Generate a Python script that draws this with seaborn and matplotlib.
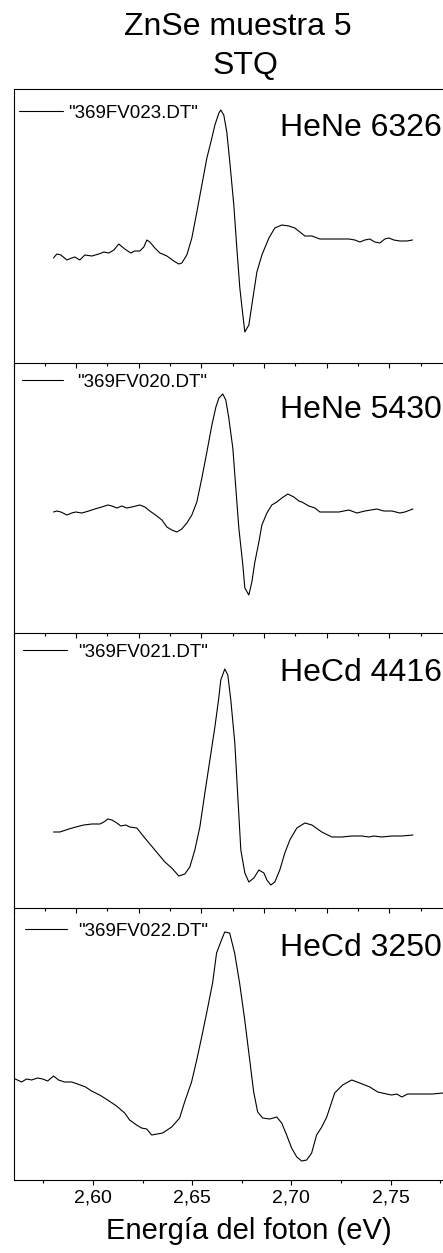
import numpy as np
import pandas as pd
import matplotlib
matplotlib.use("Agg")
import matplotlib.pyplot as plt
import seaborn as sns
from matplotlib.ticker import MultipleLocator, FuncFormatter

# ---------------------------------------------------------------
# Photoreflectance spectra of ZnSe sample 5 (STQ), four excitation lines
# Energy in eV, signal in arbitrary units (baseline ~ 0)
# ---------------------------------------------------------------
files = ['"369FV023.DT"', '"369FV020.DT"', '"369FV021.DT"', '"369FV022.DT"']
lasers = ["HeNe 6326", "HeNe 5430", "HeCd 4416", "HeCd 3250"]

energy_6326 = [2.5319, 2.5346, 2.5378, 2.5426, 2.5465, 2.5489, 2.5529, 2.5569, 2.5625, 2.5681,
               2.5721, 2.5761, 2.5801, 2.5840, 2.5888, 2.5936, 2.5968, 2.6008, 2.6040, 2.6064,
               2.6088, 2.6128, 2.6168, 2.6224, 2.6279, 2.6319, 2.6343, 2.6383, 2.6423, 2.6463,
               2.6503, 2.6543, 2.6583, 2.6607, 2.6639, 2.6654, 2.6678, 2.6702, 2.6726, 2.6758,
               2.6782, 2.6806, 2.6830, 2.6846, 2.6878, 2.6902, 2.6942, 2.6982, 2.7038, 2.7085,
               2.7141, 2.7197, 2.7245, 2.7285, 2.7325, 2.7381, 2.7445, 2.7516, 2.7596, 2.7676,
               2.7724, 2.7764, 2.7804, 2.7843, 2.7883, 2.7923, 2.7963, 2.7995, 2.8035, 2.8083,
               2.8139, 2.8184]
signal_6326 = [0.0, 0.4, 0.3, -0.2, 0.0, 0.1, -0.2, 0.3, 0.2, 0.4,
               0.6, 0.5, 0.8, 1.4, 0.9, 0.5, 0.7, 0.7, 1.1, 1.8,
               1.6, 1.0, 0.5, 0.2, -0.3, -0.6, -0.5, 0.3, 2.0, 4.6,
               7.3, 10.0, 12.0, 13.3, 14.5, 14.8, 14.3, 12.6, 9.6, 5.3,
               1.0, -3.0, -5.7, -7.4, -6.7, -4.7, -1.4, 0.3, 2.0, 3.0,
               3.3, 3.2, 3.0, 2.6, 2.2, 2.2, 1.9, 1.9, 1.9, 1.9,
               1.8, 1.6, 1.8, 1.9, 1.6, 1.5, 1.9, 2.0, 1.8, 1.7,
               1.7, 1.8]

energy_5430 = [2.5319, 2.5346, 2.5378, 2.5426, 2.5465, 2.5497, 2.5545, 2.5601, 2.5649, 2.5705,
               2.5753, 2.5785, 2.5825, 2.5864, 2.5904, 2.5944, 2.6008, 2.6048, 2.6088, 2.6144,
               2.6184, 2.6224, 2.6263, 2.6303, 2.6343, 2.6383, 2.6423, 2.6463, 2.6503, 2.6543,
               2.6583, 2.6615, 2.6639, 2.6670, 2.6694, 2.6718, 2.6750, 2.6774, 2.6798, 2.6830,
               2.6846, 2.6878, 2.6902, 2.6926, 2.6958, 2.6982, 2.7022, 2.7061, 2.7101, 2.7141,
               2.7189, 2.7237, 2.7277, 2.7301, 2.7357, 2.7405, 2.7445, 2.7516, 2.7596, 2.7676,
               2.7740, 2.7804, 2.7899, 2.7955, 2.8019, 2.8083, 2.8123, 2.8187]
signal_5430 = [0.0, 0.1, 0.0, -0.3, -0.1, 0.0, -0.1, 0.1, 0.3, 0.5,
               0.7, 0.6, 0.4, 0.6, 0.4, 0.5, 0.7, 0.5, 0.1, -0.4,
               -0.8, -1.5, -1.8, -2.0, -1.7, -1.1, -0.3, 1.0, 3.4, 6.0,
               8.7, 10.5, 11.4, 11.8, 11.2, 9.4, 6.4, 2.4, -1.6, -5.3,
               -7.6, -8.3, -7.0, -5.0, -3.0, -1.3, -0.1, 0.7, 1.0, 1.4,
               1.8, 1.5, 1.1, 1.0, 0.6, 0.4, 0.0, 0.0, 0.0, 0.2,
               -0.1, 0.1, 0.3, 0.1, 0.1, -0.1, 0.0, 0.3]

energy_4416 = [2.5319, 2.5370, 2.5442, 2.5497, 2.5561, 2.5625, 2.5689, 2.5721, 2.5753, 2.5785,
               2.5825, 2.5856, 2.5896, 2.5928, 2.5984, 2.6048, 2.6128, 2.6208, 2.6263, 2.6319,
               2.6367, 2.6407, 2.6447, 2.6487, 2.6527, 2.6567, 2.6607, 2.6639, 2.6654, 2.6686,
               2.6710, 2.6734, 2.6766, 2.6790, 2.6814, 2.6846, 2.6878, 2.6918, 2.6958, 2.6998,
               2.7022, 2.7053, 2.7085, 2.7125, 2.7165, 2.7205, 2.7261, 2.7325, 2.7381, 2.7460,
               2.7540, 2.7620, 2.7700, 2.7780, 2.7836, 2.7875, 2.7939, 2.8019, 2.8099, 2.8187]
signal_4416 = [0.0, 0.0, 0.3, 0.5, 0.7, 0.8, 0.8, 1.0, 1.3, 1.2,
               0.9, 0.6, 0.7, 0.5, 0.4, -0.6, -1.8, -3.0, -3.6, -4.4,
               -4.2, -3.5, -1.8, 0.5, 3.9, 7.2, 10.5, 13.5, 15.2, 16.3,
               15.7, 13.2, 8.9, 3.5, -1.8, -4.1, -5.0, -4.6, -3.8, -4.1,
               -4.8, -5.3, -5.0, -3.8, -2.1, -0.8, 0.4, 0.9, 0.7, 0.0,
               -0.5, -0.5, -0.4, -0.4, -0.5, -0.4, -0.5, -0.4, -0.4, -0.3]

energy_3250 = [2.5597, 2.5620, 2.5641, 2.5666, 2.5691, 2.5721, 2.5747, 2.5772, 2.5802, 2.5827,
               2.5857, 2.5893, 2.5923, 2.5963, 2.5993, 2.6034, 2.6074, 2.6119, 2.6160, 2.6185,
               2.6220, 2.6245, 2.6271, 2.6296, 2.6351, 2.6397, 2.6437, 2.6462, 2.6497, 2.6523,
               2.6548, 2.6573, 2.6603, 2.6623, 2.6644, 2.6664, 2.6689, 2.6714, 2.6739, 2.6765,
               2.6790, 2.6810, 2.6830, 2.6855, 2.6891, 2.6926, 2.6951, 2.6976, 2.7001, 2.7027,
               2.7052, 2.7077, 2.7102, 2.7127, 2.7153, 2.7178, 2.7218, 2.7258, 2.7304, 2.7344,
               2.7395, 2.7435, 2.7480, 2.7505, 2.7531, 2.7556, 2.7586, 2.7647, 2.7712, 2.7763,
               2.7820]
signal_3250 = [0.0, -0.2, -0.4, -0.1, -0.2, 0.0, -0.1, -0.3, 0.2, -0.2,
               -0.4, -0.4, -0.6, -0.9, -1.3, -1.7, -2.2, -2.8, -3.5, -4.2,
               -4.7, -5.0, -5.1, -5.7, -5.5, -4.9, -4.0, -2.4, -0.4, 1.8,
               4.1, 6.5, 9.5, 12.5, 13.6, 14.6, 14.5, 12.5, 9.5, 5.8,
               1.8, -1.4, -3.4, -4.0, -4.1, -3.9, -4.5, -5.7, -7.0, -7.9,
               -8.3, -8.2, -7.5, -5.7, -4.9, -3.9, -1.5, -0.7, -0.2, -0.5,
               -0.9, -1.4, -1.6, -1.7, -1.6, -1.9, -1.6, -1.6, -1.6, -1.5,
               -1.5]

energies = [energy_6326, energy_5430, energy_4416, energy_3250]
signals = [signal_6326, signal_5430, signal_4416, signal_3250]

# axis ranges of each panel
x_ranges = [(2.50, 2.85), (2.50, 2.85), (2.50, 2.85), (2.56, 2.78)]
y_ranges = [(-10.5, 16.9), (-12.1, 14.9), (-7.6, 19.9), (-10.2, 17.0)]

sns.set_theme(style="white")
plt.rcParams['font.family'] = ['Liberation Sans', 'DejaVu Sans']
plt.rcParams.update({"text.color": "black", "axes.labelcolor": "black",
                     "xtick.color": "black", "ytick.color": "black",
                     "legend.labelcolor": "black"})

W, H = 443, 1253
fig = plt.figure(figsize=(W / 100, H / 100), dpi=100)

# panel layout in pixels (top, bottom) and horizontal scale
panel_rows = [(89, 363), (363, 633), (633, 908), (908, 1180)]
px_per_ev = [1253.2, 1253.2, 1253.2, 1985.0]
left_px = 13.5

# legend placement: (line start x, line y, line length, gap to text) in pixels
legend_geom = [(19, 113, 44, 5), (22, 382, 41, 14), (23, 652, 44, 11), (25, 931, 42, 11)]
label_baseline = [136.5, 418, 681, 956]

fs_leg = 13.5
fs_leg_px = fs_leg * 100 / 72

axes = []
for i in range(4):
    top, bot = panel_rows[i]
    x0, x1 = x_ranges[i]
    width_px = (x1 - x0) * px_per_ev[i]
    ax = fig.add_axes([left_px / W, 1 - bot / H, width_px / W, (bot - top) / H])
    ax.set_facecolor("none")
    df = pd.DataFrame({"Energía": energies[i], "Señal": signals[i]})
    sns.lineplot(data=df, x="Energía", y="Señal", ax=ax, color="black",
                 linewidth=0.8, estimator=None, sort=False, label=files[i])
    ax.set_xlim(x0, x1)
    ax.set_ylim(*y_ranges[i])
    ax.set_xlabel("")
    ax.set_ylabel("")
    ax.set_yticks([])

    for side in ["left", "bottom", "top", "right"]:
        ax.spines[side].set_color("black")
        ax.spines[side].set_linewidth(0.8)
    ax.spines["top"].set_visible(i == 0)

    ax.xaxis.set_major_locator(MultipleLocator(0.05))
    ax.xaxis.set_minor_locator(MultipleLocator(0.025))
    ax.tick_params(axis="x", which="major", direction="out", length=3.6, width=0.8,
                   color="black", bottom=True, top=False)
    ax.tick_params(axis="x", which="minor", direction="out", length=2.4, width=0.8,
                   color="black", bottom=True, top=False)
    if i < 3:
        ax.tick_params(axis="x", labelbottom=False)
    else:
        ax.xaxis.set_major_formatter(FuncFormatter(lambda v, p: f"{v:.2f}".replace(".", ",")))
        ax.tick_params(axis="x", which="major", labelsize=14, pad=3.2, labelcolor="black")

    lx, ly, llen, lgap = legend_geom[i]
    leg = ax.legend(loc="center left", bbox_to_anchor=(lx / W, 1 - ly / H),
                    bbox_transform=fig.transFigure, frameon=False, fontsize=fs_leg,
                    handlelength=llen / fs_leg_px, handletextpad=lgap / fs_leg_px,
                    borderpad=0, borderaxespad=0)
    for t in leg.get_texts():
        t.set_color("black")

    fig.text(442 / W, 1 - label_baseline[i] / H, lasers[i], ha="right", va="baseline",
             fontsize=23, color="black")
    axes.append(ax)

# title lines
fig.text(237.5 / W, 1 - 35 / H, "ZnSe muestra 5", ha="center", va="baseline",
         fontsize=23, color="black")
fig.text(245 / W, 1 - 74 / H, "STQ", ha="center", va="baseline",
         fontsize=23, color="black")

# energy axis label
axes[-1].set_xlabel("Energía del foton (eV)", fontsize=21, color="black")
axes[-1].xaxis.set_label_coords((249 - left_px) / (0.22 * 1985.0), -(1217 - 1180) / 272)

fig.savefig("out.png", dpi=100)
